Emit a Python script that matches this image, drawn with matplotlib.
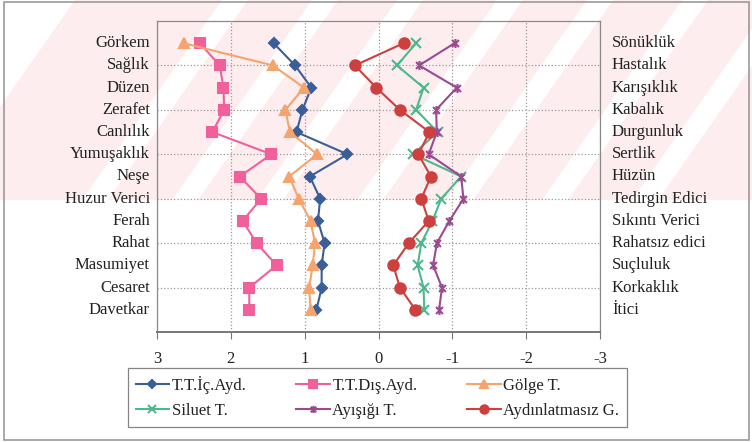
import numpy as np
import matplotlib.pyplot as plt
from matplotlib.path import Path
from matplotlib.patches import Polygon, Rectangle

plt.rcParams['font.family'] = ['Liberation Serif', 'DejaVu Serif']

# left (positive) and right (negative) adjective pairs, top to bottom
left_words = ['Görkem', 'Sağlık', 'Düzen', 'Zerafet', 'Canlılık', 'Yumuşaklık', 'Neşe',
              'Huzur Verici', 'Ferah', 'Rahat', 'Masumiyet', 'Cesaret', 'Davetkar']
right_words = ['Sönüklük', 'Hastalık', 'Karışıklık', 'Kabalık', 'Durgunluk', 'Sertlik', 'Hüzün',
               'Tedirgin Edici', 'Sıkıntı Verici', 'Rahatsız edici', 'Suçluluk', 'Korkaklık', 'İtici']

ic_ayd = [1.42, 1.13, 0.91, 1.03, 1.11, 0.42, 0.93, 0.79, 0.82, 0.73, 0.77, 0.77, 0.84]
dis_ayd = [2.42, 2.15, 2.10, 2.09, 2.25, 1.45, 1.88, 1.59, 1.84, 1.65, 1.38, 1.75, 1.75]
golge = [2.64, 1.43, 1.01, 1.26, 1.20, 0.83, 1.21, 1.08, 0.92, 0.86, 0.89, 0.94, 0.92]
siluet = [-0.51, -0.25, -0.61, -0.51, -0.80, -0.47, -1.12, -0.85, -0.73, -0.58, -0.53, -0.61, -0.62]
ayisigi = [-1.03, -0.55, -1.06, -0.78, -0.79, -0.68, -1.12, -1.15, -0.96, -0.79, -0.74, -0.86, -0.82]
aydinlatmasiz = [-0.34, 0.32, 0.03, -0.29, -0.69, -0.54, -0.71, -0.58, -0.68, -0.41, -0.20, -0.29, -0.50]

x_ticks = [3, 2, 1, 0, -1, -2, -3]

rows = np.arange(len(left_words), 0, -1)

# excel-style star marker: an x with a vertical bar through it
star = Path([(-1, -1), (1, 1), (-1, 1), (1, -1), (0, -1.3), (0, 1.3)],
            [Path.MOVETO, Path.LINETO, Path.MOVETO, Path.LINETO, Path.MOVETO, Path.LINETO])

fig = plt.figure(figsize=(7.52, 4.42), dpi=100)

# background layer in pixel units: faint striped band + outer frame
bg = fig.add_axes([0, 0, 1, 1], zorder=-5)
bg.set_xlim(0, 752)
bg.set_ylim(442, 0)
bg.axis('off')
pink = '#fdedef'
bg.add_patch(Rectangle((0, 0), 752, 200, color=pink, lw=0))
bg.add_patch(Polygon([(0, 0), (75, 0), (0, 107)], color='white', lw=0))
for c in [165, 255, 340, 440, 530, 625, 715]:
    w = 26
    bg.add_patch(Polygon([(c - w / 2 + 70, 0), (c + w / 2 + 70, 0),
                          (c + w / 2 - 70, 200), (c - w / 2 - 70, 200)], color='white', lw=0))
bg.add_patch(Rectangle((4, 2), 745, 438, fill=False, ec='#9a9a9a', lw=1.2))

ax = fig.add_axes([157 / 752, 1 - 332 / 442, 443 / 752, 311 / 442])
ax.set_facecolor('none')

series = [
    ('T.T.İç.Ayd.', ic_ayd, '#3b5e98', 'D', 5.5),
    ('T.T.Dış.Ayd.', dis_ayd, '#f0609a', 's', 6.5),
    ('Gölge T.', golge, '#f4a46c', '^', 6.5),
    ('Siluet T.', siluet, '#4db88c', 'x', 6.5),
    ('Ayışığı T.', ayisigi, '#9a4a90', star, 6.5),
    ('Aydınlatmasız G.', aydinlatmasiz, '#cc4040', 'o', 7.5),
]
handles = []
for name, vals, col, mk, ms in series:
    h, = ax.plot(vals, rows, color=col, marker=mk, markersize=ms, lw=1.5,
                 markeredgewidth=1.5, label=name)
    handles.append(h)

ax.set_xlim(3, -3)
ax.set_ylim(0, 14)
ax.set_xticks(x_ticks)
ax.set_xticklabels([str(t) for t in x_ticks], fontsize=12, color='#222222')
ax.set_yticks([2, 4, 6, 8, 10, 12])
ax.tick_params(axis='y', length=0, labelleft=False)
ax.tick_params(axis='x', length=5, pad=9, color='#777777', direction='out')
ax.grid(True, ls=':', color='#999999', lw=0.9)
for side in ['left', 'top', 'right']:
    ax.spines[side].set_color('#8a8a8a')
    ax.spines[side].set_linewidth(0.9)
ax.spines['bottom'].set_color('#777777')
ax.spines['bottom'].set_linewidth(1.4)

for y, lw_, rw in zip(rows, left_words, right_words):
    ax.text(-0.016, y, lw_, transform=ax.get_yaxis_transform(), ha='right', va='center',
            fontsize=12, color='#222222')
    ax.text(1.027, y, rw, transform=ax.get_yaxis_transform(), ha='left', va='center',
            fontsize=12, color='#222222')

# legend filled column by column, so reorder to get two rows of three
order = [0, 3, 1, 4, 2, 5]
leg = fig.legend([handles[i] for i in order], [series[i][0] for i in order],
                 loc='center', bbox_to_anchor=(377.5 / 752, 1 - 397.5 / 442), ncol=3,
                 fontsize=12, frameon=True, fancybox=False, edgecolor='#666666',
                 handlelength=2.0, handletextpad=0.15, columnspacing=3.0,
                 borderpad=0.45, labelspacing=0.55, markerscale=0.8)
leg.get_frame().set_linewidth(0.9)
for t in leg.get_texts():
    t.set_color('#222222')

fig.savefig('out.png', dpi=100)
